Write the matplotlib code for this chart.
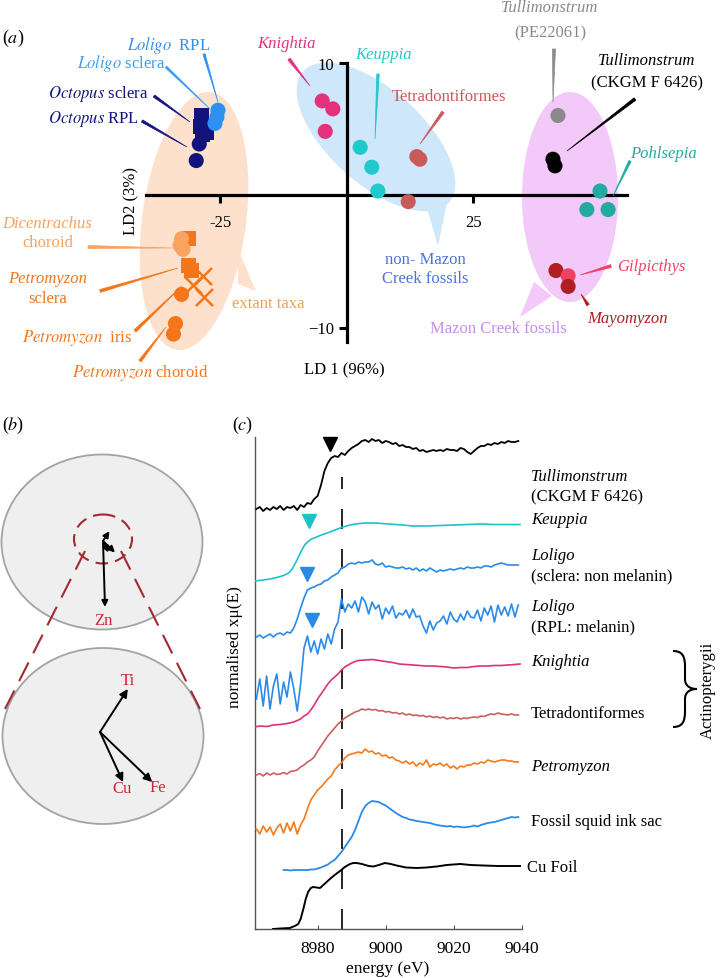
import numpy as np
import matplotlib
matplotlib.use("Agg")
import matplotlib.pyplot as plt
from matplotlib.patches import Ellipse, Polygon, PathPatch
from matplotlib.path import Path

plt.rcParams['font.family'] = ['Liberation Serif', 'DejaVu Serif']
plt.rcParams['mathtext.fontset'] = 'stix'
plt.rcParams['font.size'] = 12

# ---------------------------------------------------------------- data (a)
loligo_x, loligo_y = [-25.5, -25.7, -26.1], [6.4, 5.9, 5.4]
octopus_sclera_x, octopus_sclera_y = [-28.7, -28.9, -27.7, -28.5], [6.0, 5.2, 4.7, 4.6]
octopus_rpl_x, octopus_rpl_y = [-29.2, -29.8], [3.85, 2.6]
petro_sclera_x, petro_sclera_y = [-31.4, -31.4, -30.7], [-3.3, -5.3, -5.7]
dicentrachus_x, dicentrachus_y = [-32.7, -33.0, -32.4], [-3.3, -3.8, -4.1]
petro_x_x, petro_x_y = [-28.5, -30.4, -28.3], [-6.1, -6.8, -7.7]
petro_iris_x, petro_iris_y = [-32.7], [-7.5]
petro_choroid_x, petro_choroid_y = [-33.9, -34.3], [-9.7, -10.5]
knightia_x, knightia_y = [-4.9, -2.8, -4.3], [7.1, 6.5, 4.8]
keuppia_x, keuppia_y = [2.6, 4.9, 6.1], [3.6, 2.1, 0.3]
tetra_x, tetra_y = [13.8, 14.4, 12.1], [2.9, 2.7, -0.5]
tulli_pe_x, tulli_pe_y = [41.7], [6.0]
tulli_ck_x, tulli_ck_y = [40.7, 41.1], [2.7, 2.2]
pohl_x, pohl_y = [50.0, 47.4, 51.6], [0.3, -1.1, -1.1]
mayo_x, mayo_y = [41.3, 43.7], [-5.7, -6.9]
gilp_x, gilp_y = [43.7], [-6.1]

# ---------------------------------------------------------------- data (b)
load_names = ['Zn', 'Ti', 'Cu', 'Fe']
load_dx = [0.02, 0.064, 0.053, 0.12]
load_dy = [-0.66, 0.099, -0.115, -0.115]

# ---------------------------------------------------------------- data (c)
tulli_mu = [0.0, 0.2, -0.2, 0.1, -0.1, 0.2, 0.0, 0.3, -0.1, 0.2,
            0.1, 0.3, -0.1, 0.4, 0.2, 0.6, 0.5, 1.0, 1.3, 2.4,
            3.8, 4.6, 5.1, 5.3, 5.2, 5.6, 5.4, 5.8, 6.1, 6.3,
            6.5, 6.8, 6.9, 6.7, 7.0, 6.8, 6.9, 6.6, 6.8, 6.7,
            6.5, 6.6, 6.3, 6.4, 6.2, 6.2, 6.0, 6.1, 5.8, 5.9,
            5.7, 5.8, 5.9, 5.8, 5.9, 5.8, 6.0, 5.9, 5.9, 5.8,
            6.1, 6.0, 5.7, 5.5, 5.8, 6.1, 6.3, 6.3, 6.5, 6.4,
            6.6, 6.5, 6.7, 6.6, 6.8, 6.7, 6.7, 6.8]
keup_E = [8961.5, 8964, 8966, 8968, 8970, 8971.5, 8972.5, 8973.5, 8974.5, 8975.5,
          8976.3, 8977.2, 8978.2, 8979.7, 8981.5, 8983.6, 8985.5, 8987, 8989, 8991,
          8994, 8997, 9001, 9005, 9008, 9012, 9016, 9020, 9024, 9028, 9032, 9036, 9039.5]
keup_mu = [0.0, 0.1, 0.2, 0.35, 0.55, 0.8, 1.2, 1.8, 2.5, 3.2,
           3.65, 3.95, 4.2, 4.4, 4.65, 4.9, 5.15, 5.35, 5.55, 5.7,
           5.8, 5.8, 5.7, 5.6, 5.5, 5.5, 5.55, 5.6, 5.65, 5.7, 5.65, 5.65, 5.65]
sclera_mu = [0.0, 0.2, -0.1, 0.1, 0.3, 0.0, 0.3, 0.4, 0.2, 0.5,
             0.4, 0.9, 1.8, 2.9, 3.9, 4.7, 4.9, 5.0, 5.2, 5.3,
             5.6, 5.7, 6.0, 6.2, 6.4, 6.9, 7.0, 7.3, 7.4, 7.3,
             7.5, 7.4, 7.5, 7.5, 7.7, 7.3, 7.2, 7.4, 7.0, 7.1,
             7.0, 6.9, 6.9, 7.0, 6.8, 6.9, 6.7, 6.9, 6.6, 6.8,
             6.6, 6.9, 6.7, 6.5, 6.7, 6.6, 6.7, 6.8, 6.7, 6.8,
             6.9, 6.8, 7.0, 6.9, 6.9, 7.0, 6.9, 7.1, 7.1, 7.0,
             7.2, 7.3, 7.4, 7.3, 7.2, 7.2, 7.2, 7.2]
rpl_mu = [-0.5, 1.5, -1.2, 1.8, -1.5, 0.8, 2.0, -1.0, 1.2, -0.3,
          2.2, 0.5, -1.7, 1.0, 4.6, 5.8, 4.2, 5.3, 4.0, 5.5,
          4.5, 6.0, 5.0, 6.5, 7.2, 9.5, 8.2, 9.0, 8.6, 9.3,
          8.2, 9.7, 9.2, 8.0, 9.2, 8.5, 8.9, 7.5, 8.6, 8.0,
          8.8, 7.6, 8.1, 7.9, 8.4, 7.6, 8.5, 7.7, 7.8, 6.8,
          6.1, 7.3, 6.4, 7.1, 7.3, 7.8, 7.0, 8.2, 7.5, 7.2,
          8.0, 7.4, 8.3, 7.7, 7.6, 8.4, 7.3, 8.6, 7.9, 8.8,
          7.2, 8.9, 7.9, 8.7, 7.8, 9.0, 7.7, 8.9]
kni_E = [8961.5, 8963, 8965, 8967, 8969, 8971, 8973, 8975, 8976, 8977,
         8978, 8979, 8980, 8981, 8982, 8983, 8984, 8985, 8986, 8987,
         8988, 8989, 8990, 8991, 8992, 8994, 8996, 8998, 9000, 9002,
         9004, 9006, 9008, 9010, 9012, 9014, 9016, 9018, 9020, 9022,
         9024, 9026, 9028, 9030, 9032, 9034, 9036, 9038, 9039.5]
kni_mu = [0.0, 0.1, 0.05, 0.2, 0.25, 0.35, 0.5, 0.8, 1.1, 1.3,
          1.7, 2.2, 2.8, 3.3, 3.8, 4.3, 4.7, 5.0, 5.3, 5.7,
          6.0, 6.2, 6.4, 6.55, 6.65, 6.7, 6.75, 6.65, 6.55, 6.45,
          6.3, 6.25, 6.2, 6.15, 6.1, 6.1, 6.05, 6.0, 5.9, 5.95,
          5.95, 6.05, 6.1, 6.1, 6.15, 6.15, 6.2, 6.25, 6.3]
tetra_mu = [0.0, 0.15, -0.1, 0.2, 0.0, 0.2, 0.05, 0.1, 0.25, 0.1,
            0.35, 0.4, 0.5, 0.8, 1.0, 1.3, 1.5, 1.8, 2.4, 2.9,
            3.4, 3.9, 4.3, 4.7, 5.1, 5.4, 5.7, 5.9, 6.1, 6.3,
            6.4, 6.6, 6.5, 6.6, 6.5, 6.55, 6.4, 6.45, 6.3, 6.35,
            6.2, 6.25, 6.1, 6.2, 6.0, 6.1, 5.95, 6.0, 5.9, 5.95,
            5.8, 5.9, 5.75, 5.85, 5.7, 5.8, 5.6, 5.7, 5.65, 5.75,
            5.6, 5.7, 5.65, 5.75, 5.8, 5.75, 5.9, 5.85, 6.0, 6.1,
            6.05, 6.2, 6.1, 6.05, 6.0, 6.1, 6.0, 6.0]
petro_mu = [0.0, -0.5, 0.3, -0.3, 0.2, -0.6, 0.1, 0.5, -0.4, 0.6,
            -0.2, 0.7, -0.5, 0.4, 1.0, 2.0, 2.9, 3.4, 3.9, 4.2,
            4.6, 5.0, 5.3, 5.9, 6.3, 6.6, 7.1, 7.4, 7.5, 7.6,
            7.7, 7.6, 8.0, 7.7, 7.8, 7.5, 7.6, 7.3, 7.4, 7.1,
            7.2, 6.9, 6.8, 6.6, 6.8, 6.5, 6.7, 6.3, 6.6, 6.4,
            6.9, 6.2, 6.5, 6.4, 6.6, 6.3, 6.5, 6.1, 6.3, 6.0,
            6.3, 6.2, 6.4, 6.4, 6.6, 6.5, 6.7, 6.6, 6.9, 6.8,
            6.7, 6.8, 6.9, 6.9, 6.8, 6.8, 6.7, 6.7]
fossil_mu = [0.0, 0.0, -0.05, 0.0, 0.0, 0.0, 0.0, 0.0, 0.05, 0.05,
             0.15, 0.25, 0.4, 0.55, 0.8, 1.0, 1.4, 1.8, 2.3, 2.8,
             3.3, 4.0, 4.9, 5.8, 6.4, 6.7, 6.9, 6.85, 6.8, 6.6,
             6.45, 6.2, 5.95, 5.7, 5.5, 5.3, 5.2, 5.05, 5.0, 4.9,
             4.85, 4.8, 4.75, 4.7, 4.6, 4.5, 4.45, 4.4, 4.35, 4.4,
             4.3, 4.35, 4.3, 4.25, 4.3, 4.35, 4.45, 4.35, 4.5, 4.6,
             4.7, 4.75, 4.8, 4.9, 5.0, 5.1, 5.2, 5.3, 5.25, 5.3]
cu_E = [8966.9, 8969, 8971.8, 8973.3, 8974.3, 8975, 8975.8, 8976.5, 8977.2, 8978,
        8978.7, 8979.7, 8980.7, 8982, 8983.6, 8985, 8986.6, 8988, 8989.5, 8990.5,
        8991.5, 8993, 8995, 8996.4, 8998, 8999.8, 9001.5, 9003.2, 9006, 9009.1,
        9012, 9015, 9018, 9021.9, 9025, 9028.7, 9033, 9036, 9039.5]
cu_mu = [0.0, 0.05, 0.1, 0.3, 0.5, 1.0, 2.0, 3.0, 3.7, 4.1,
         4.2, 4.15, 4.1, 4.5, 5.0, 5.4, 5.8, 6.2, 6.5, 6.6,
         6.6, 6.5, 6.3, 6.25, 6.4, 6.6, 6.5, 6.35, 6.15, 6.1,
         6.15, 6.25, 6.4, 6.5, 6.4, 6.35, 6.3, 6.3, 6.3]
grid_start = 8962          # 1 eV grid for the densely sampled spectra
fossil_start = 8970
spec_offsets = [42.0, 34.8, 29.2, 23.5, 20.2, 15.4, 10.0, 5.9, 0.0]
edge_energy = 8987.1
tri_E = [8983.6, 8977.5, 8976.9, 8978.3]
tri_y = [48.5, 40.8, 35.5, 30.9]
tri_col = ['black', '#1ec3c8', '#2a8ae8', '#2a8ae8']

# ---------------------------------------------------------------- figure
W, H = 720, 979
fig = plt.figure(figsize=(W / 100, H / 100), dpi=100)


def F(px, py):
    return (px / W, 1 - py / H)


def ftext(px, py, s, **kw):
    kw.setdefault('ha', 'left')
    kw.setdefault('va', 'center')
    kw.setdefault('fontsize', 12)
    return fig.text(px / W, 1 - py / H, s, **kw)


def taper(p0, p1, w, color):
    (x0, y0), (x1, y1) = p0, p1
    dx, dy = x1 - x0, y1 - y0
    L = np.hypot(dx, dy)
    nx, ny = -dy / L, dx / L
    pts = [(x0 + nx * w / 2, y0 + ny * w / 2), (x1, y1), (x0 - nx * w / 2, y0 - ny * w / 2)]
    fig.add_artist(Polygon([F(x, y) for x, y in pts], closed=True, transform=fig.transFigure,
                           fc=color, ec=color, lw=0.5, zorder=1))


def blob(ax, cx, cy, a, b, ang, color):
    t = np.linspace(0, 2 * np.pi, 120)
    th = np.deg2rad(ang)
    x = a * np.cos(t)
    y = b * np.sin(t)
    xr = cx + x * np.cos(th) - y * np.sin(th)
    yr = cy + x * np.sin(th) + y * np.cos(th)
    p = Polygon([F(u, v) for u, v in zip(xr, yr)], closed=True, transform=fig.transFigure,
                fc=color, ec='none', zorder=0.5, clip_on=False)
    ax.add_artist(p)


def tail(ax, pts, color):
    p = Polygon([F(u, v) for u, v in pts], closed=True, transform=fig.transFigure,
                fc=color, ec='none', zorder=0.5, clip_on=False)
    ax.add_artist(p)


# ================================================================ panel (a)
ax_a = fig.add_axes([0, 1 - 380 / H, 1, 380 / H])
ax_a.patch.set_visible(False)
PXX, PXY = 5.06, 13.25
ax_a.set_xlim((0 - 347) / PXX, (720 - 347) / PXX)
ax_a.set_ylim((196 - 380) / PXY, 196 / PXY)

PEACH, SKY, LILAC = '#fde1cd', '#cfe7fb', '#f3c9fa'
blob(ax_a, 194, 222, 52, 130, 7.5, PEACH)
tail(ax_a, [(238, 250), (256, 292), (238, 285)], PEACH)
blob(ax_a, 376, 138, 98, 47, 42, SKY)
tail(ax_a, [(425, 203), (438, 247), (449, 194)], SKY)
blob(ax_a, 570, 198, 48, 105, 0, LILAC)
tail(ax_a, [(534, 283), (520, 318), (552, 297)], LILAC)

C_LOL = '#2e90f0'
C_OCT = '#13137c'
C_DIC = '#f8a360'
C_PET = '#f5751a'
C_KNI = '#e2327c'
C_KEU = '#1fc9cc'
C_TET = '#c95a5a'
C_PE = '#8a8a8a'
C_POH = '#22aaa2'
C_GIL = '#ef4262'
C_MAY = '#b01d22'
S = 118
ax_a.scatter(octopus_sclera_x, octopus_sclera_y, s=S, marker='s', c=C_OCT, zorder=3, edgecolors='none')
ax_a.scatter(octopus_rpl_x, octopus_rpl_y, s=S, marker='o', c=C_OCT, zorder=3, edgecolors='none')
ax_a.scatter(loligo_x, loligo_y, s=S, marker='o', c=C_LOL, zorder=3, edgecolors='none')
ax_a.scatter(petro_sclera_x, petro_sclera_y, s=S, marker='s', c=C_PET, zorder=3, edgecolors='none')
ax_a.scatter(dicentrachus_x, dicentrachus_y, s=S, marker='o', c=C_DIC, zorder=3, edgecolors='none')
ax_a.scatter(petro_x_x, petro_x_y, s=150, marker='x', c=C_PET, zorder=3, linewidths=1.8)
ax_a.scatter(petro_iris_x, petro_iris_y, s=S, marker='o', c=C_PET, zorder=3, edgecolors='none')
ax_a.scatter(petro_choroid_x, petro_choroid_y, s=S, marker='o', c=C_PET, zorder=3, edgecolors='none')
ax_a.scatter(knightia_x, knightia_y, s=S, marker='o', c=C_KNI, zorder=3, edgecolors='none')
ax_a.scatter(keuppia_x, keuppia_y, s=S, marker='o', c=C_KEU, zorder=3, edgecolors='none')
ax_a.scatter(tetra_x, tetra_y, s=S, marker='o', c=C_TET, zorder=3, edgecolors='none')
ax_a.scatter(tulli_pe_x, tulli_pe_y, s=S, marker='o', c=C_PE, zorder=3, edgecolors='none')
ax_a.scatter(tulli_ck_x, tulli_ck_y, s=S, marker='o', c='black', zorder=3, edgecolors='none')
ax_a.scatter(pohl_x, pohl_y, s=S, marker='o', c=C_POH, zorder=3, edgecolors='none')
ax_a.scatter(mayo_x[:1], mayo_y[:1], s=S, marker='o', c=C_MAY, zorder=3, edgecolors='none')
ax_a.scatter(gilp_x, gilp_y, s=S, marker='o', c=C_GIL, zorder=3, edgecolors='none')
ax_a.scatter(mayo_x[1:], mayo_y[1:], s=S, marker='o', c=C_MAY, zorder=3, edgecolors='none')

for s in ['top', 'right']:
    ax_a.spines[s].set_visible(False)
ax_a.spines['left'].set_position(('data', 0))
ax_a.spines['bottom'].set_position(('data', 0))
ax_a.spines['left'].set_bounds(-11.1, 10.0)
ax_a.spines['bottom'].set_bounds(-39.7, 55.3)
for s in ['left', 'bottom']:
    ax_a.spines[s].set_linewidth(2.3)
ax_a.set_xticks([-25, 25])
ax_a.set_xticklabels(['-25', '25'])
ax_a.set_yticks([-10, 10])
ax_a.set_yticklabels(['\u221210', '10'])
ax_a.tick_params(direction='out', length=6, width=2.2, labelsize=12)
ax_a.tick_params(axis='x', pad=8)
ax_a.tick_params(axis='y', pad=3)

ftext(131, 201, 'LD2 (3%)', rotation=90, ha='center')
ftext(344, 370, 'LD 1 (96%)', ha='center')
ftext(2, 38, r'($\mathit{a}$)', fontsize=13)

# labels + leaders
ftext(127, 45, r'$\mathit{Loligo}$  RPL', color=C_LOL)
ftext(77, 64, r'$\mathit{Loligo}$ sclera', color='#3a9ef2')
ftext(48, 94, r'$\mathit{Octopus}$ sclera', color=C_OCT)
ftext(48, 119, r'$\mathit{Octopus}$ RPL', color=C_OCT)
taper((204, 55), (218, 103), 2.2, C_LOL)
taper((166, 68), (210, 110), 2.2, '#3a9ef2')
taper((154, 97), (190, 123), 2.6, C_OCT)
taper((142, 122), (187, 148), 2.6, C_OCT)

ftext(47, 224, 'Dicentrachus', color=C_DIC, ha='center', style='italic')
ftext(48, 243, 'choroid', color=C_DIC, ha='center')
ftext(48, 279, 'Petromyzon', color=C_PET, ha='center', style='italic')
ftext(48, 299, 'sclera', color=C_PET, ha='center')
ftext(22, 338, r'$\mathit{Petromyzon}$  iris', color=C_PET)
ftext(72, 373, r'$\mathit{Petromyzon}$ choroid', color=C_PET)
taper((88, 248), (172, 249), 3.0, C_DIC)
taper((100, 292), (178, 269), 3.0, C_PET)
taper((135, 332), (182, 287), 3.0, C_PET)
taper((140, 362), (166, 328), 3.0, C_PET)
ftext(232, 304, 'extant taxa', color='#e9a25c')

ftext(257, 44, 'Knightia', color=C_KNI, style='italic')
taper((289, 60), (310, 87), 3.0, C_KNI)
ftext(355, 55, 'Keuppia', color=C_KEU, style='italic')
taper((378, 75), (375, 140), 2.6, C_KEU)
ftext(392, 97, 'Tetradontiformes', color=C_TET)
taper((443, 113), (420, 145), 3.0, C_TET)
ftext(425, 260, 'non- Mazon', color='#4a74dc', ha='center')
ftext(425, 279, 'Creek fossils', color='#4a74dc', ha='center')

ftext(550, 8, 'Tullimonstrum', color=C_PE, ha='center', style='italic')
ftext(550, 33, '(PE22061)', color=C_PE, ha='center')
taper((554, 50), (553, 103), 3.0, C_PE)
ftext(647, 61, 'Tullimonstrum', color='black', ha='center', style='italic')
ftext(647, 83, '(CKGM F 6426)', color='black', ha='center')
taper((635, 100), (567, 152), 3.0, 'black')
ftext(630, 154, 'Pohlsepia', color=C_POH, style='italic')
taper((630, 162), (613, 197), 2.6, C_POH)
ftext(617, 267, 'Gilpicthys', color=C_GIL, style='italic')
taper((611, 267), (580, 276), 3.0, C_GIL)
ftext(587, 319, 'Mayomyzon', color=C_MAY, style='italic')
taper((588, 306), (581, 295), 3.0, C_MAY)
ftext(430, 329, 'Mazon Creek fossils', color='#c58ef0')

# ================================================================ panel (b)
ax_b = fig.add_axes([0, 1 - 840 / H, 215 / W, 410 / H])
ax_b.set_xlim(0, 215)
ax_b.set_ylim(840, 430)
ax_b.axis('off')
ftext(2, 425, r'($\mathit{b}$)', fontsize=13)
DRED = '#a32a2e'
for cx, cy, w, h in [(102, 543, 201, 175), (103, 737, 201, 176)]:
    ax_b.add_patch(Ellipse((cx, cy), w, h, fc='#efefef', ec='#a3a3a3', lw=1.3, zorder=1))
ax_b.add_patch(Ellipse((103, 540), 58, 49, fill=False, ec=DRED, lw=1.5, ls=(0, (6, 3.5)), zorder=2))
ax_b.plot([85, 4], [552, 712], color=DRED, lw=1.5, ls=(0, (10, 5)), zorder=2, solid_capstyle='butt')
ax_b.plot([121, 200], [552, 710], color=DRED, lw=1.5, ls=(0, (10, 5)), zorder=2, solid_capstyle='butt')

origins = [(103, 542, 100.0), (100, 733, 435.0)]
label_off = {'Zn': (-2, 13), 'Ti': (0, -9), 'Cu': (-1, 6), 'Fe': (6, 5)}
for k, (ox, oy, sc) in enumerate(origins):
    for name, dx, dy in zip(load_names, load_dx, load_dy):
        if k == 1 and name == 'Zn':
            continue
        tx, ty = ox + sc * dx, oy - sc * dy
        ms = 9 if k == 0 else 12
        ax_b.annotate('', xy=(tx, ty), xytext=(ox, oy),
                      arrowprops=dict(arrowstyle='-|>', color='black', lw=1.4,
                                      mutation_scale=ms, shrinkA=0, shrinkB=0), zorder=3)
        if (k == 0 and name == 'Zn') or (k == 1):
            lx, ly = label_off[name]
            ax_b.text(tx + lx, ty + ly, name, color='#c8283f', fontsize=12, ha='center', va='center')

# ================================================================ panel (c)
ax_c = fig.add_axes([254.7 / W, 1 - 930 / H, (521.7 - 254.7) / W, (930 - 438) / H])
ax_c.set_xlim(8961.5, 9040)
ax_c.set_ylim(0, 49.2)
for s in ['top', 'right']:
    ax_c.spines[s].set_visible(False)
for s in ['left', 'bottom']:
    ax_c.spines[s].set_color('#555555')
    ax_c.spines[s].set_linewidth(1.0)
ax_c.set_yticks([])
ax_c.set_xticks([8980, 9000, 9020, 9040])
ax_c.tick_params(axis='x', direction='in', length=3, width=0.8, labelsize=12.5, pad=8, color='#555555')
ftext(232, 425, r'($\mathit{c}$)', fontsize=13)

grid = lambda vals, start: start + np.arange(len(vals))
spectra = [
    (grid(tulli_mu, grid_start), tulli_mu, 'black', 1.3),
    (keup_E, keup_mu, '#1ec3c8', 1.2),
    (grid(sclera_mu, grid_start), sclera_mu, '#2a8ae8', 1.2),
    (grid(rpl_mu, grid_start), rpl_mu, '#2a8ae8', 1.2),
    (kni_E, kni_mu, '#e0307a', 1.2),
    (grid(tetra_mu, grid_start), tetra_mu, '#c8615f', 1.2),
    (grid(petro_mu, grid_start), petro_mu, '#f57a1a', 1.2),
    (grid(fossil_mu, fossil_start), fossil_mu, '#2a8ae8', 1.3),
    (cu_E, cu_mu, 'black', 1.4),
]
for (E, mu, col, lw), off in zip(spectra, spec_offsets):
    ax_c.plot(E, np.asarray(mu) + off, color=col, lw=lw, zorder=3)
ax_c.vlines(edge_energy, 0, 45.2, colors='black', lw=1.2, linestyles=(0, (12, 12)), zorder=2)
for e, y, c in zip(tri_E, tri_y, tri_col):
    ax_c.plot([e], [y], marker='v', ms=10, color=c, ls='none', clip_on=False, zorder=4)

ftext(235, 647, 'normalised x\u03bc(E)', rotation=90, ha='center', fontsize=12.5)
ftext(388, 969, 'energy (eV)', ha='center', fontsize=12.5)
ftext(531, 477, 'Tullimonstrum', style='italic')
ftext(531, 497, '(CKGM F 6426)')
ftext(531, 520, 'Keuppia', style='italic')
ftext(531, 556, 'Loligo', style='italic')
ftext(531, 576, '(sclera: non melanin)')
ftext(531, 607, 'Loligo', style='italic')
ftext(531, 627, '(RPL: melanin)')
ftext(531, 662, 'Knightia', style='italic')
ftext(531, 714, 'Tetradontiformes')
ftext(531, 767, 'Petromyzon', style='italic')
ftext(531, 822, 'Fossil squid ink sac')
ftext(527, 868, 'Cu Foil')

brace = [(673, 652), (683, 652), (685, 658), (685, 668), (685, 680),
         (685, 686), (689, 690), (697, 690), (689, 690), (685, 694), (685, 700),
         (685, 712), (685, 722), (683, 728), (673, 728)]
codes = [Path.MOVETO, Path.CURVE4, Path.CURVE4, Path.CURVE4, Path.LINETO,
         Path.CURVE4, Path.CURVE4, Path.CURVE4, Path.CURVE4, Path.CURVE4, Path.CURVE4,
         Path.LINETO, Path.CURVE4, Path.CURVE4, Path.CURVE4]
fig.add_artist(PathPatch(Path([F(x, y) for x, y in brace], codes), transform=fig.transFigure,
                         fill=False, ec='black', lw=1.5))
ftext(708, 690, 'Actinopterygii', rotation=90, ha='center')

fig.savefig('out.png', dpi=100)
